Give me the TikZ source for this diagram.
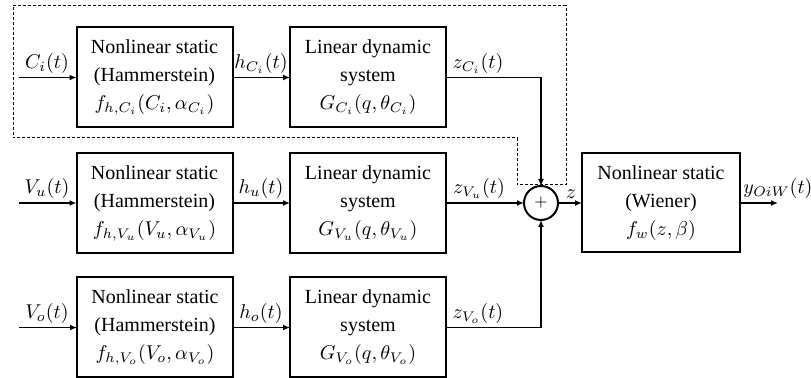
\documentclass[tikz,border=0pt]{standalone}
\usepackage{fontspec}
\setmainfont{Liberation Serif}
\usetikzlibrary{arrows.meta}

\begin{document}
\begin{tikzpicture}[y=0.50pt,x=0.50pt,yscale=-1, inner sep=0pt, outer sep=0pt,
  blockbox/.style={draw=black,line width=1.0pt,minimum width=78pt,minimum height=50pt,
    align=center,font=\fontsize{10}{14}\selectfont},
  wire/.style={draw=black,line join=miter,line cap=butt,line width=0.700pt,
    -{Latex[length=3.5pt,width=3pt]}},
  sumnode/.style={draw=black,circle,line width=1.0pt,minimum size=17pt}]
\useasboundingbox (0,0) rectangle (811,378);

% feedback frame (dotted)
\path[draw=black,line width=0.500pt,dash pattern=on 1.5pt off 1pt] (13,6) -- (566,6) --
  (566,185) -- (517,185) -- (517,138) -- (13,138) -- cycle;

\node[blockbox] (rect4101) at (154.5,77.5) {Nonlinear static\\(Hammerstein)\\$f_{h,C_i}(C_i,\alpha_{C_i})$};
\node[blockbox] (rect4102) at (368,77.5) {Linear dynamic\\system\\$G_{C_i}(q,\theta_{C_i})$};
\node[blockbox] (rect4103) at (154.5,203) {Nonlinear static\\(Hammerstein)\\$f_{h,V_u}(V_u,\alpha_{V_u})$};
\node[blockbox] (rect4104) at (368,203) {Linear dynamic\\system\\$G_{V_u}(q,\theta_{V_u})$};
\node[blockbox] (rect4105) at (155,327.5) {Nonlinear static\\(Hammerstein)\\$f_{h,V_o}(V_o,\alpha_{V_o})$};
\node[blockbox] (rect4106) at (368,327.5) {Linear dynamic\\system\\$G_{V_o}(q,\theta_{V_o})$};
\node[sumnode] (circle4108) at (541,203) {\footnotesize $+$};
\node[blockbox,minimum width=79pt,minimum height=49.5pt] (rect4107) at (661,203)
  {Nonlinear static\\(Wiener)\\$f_w(z,\beta)$};

\coordinate (path4201) at (19,77.5);
\coordinate (path4202) at (19,203);
\coordinate (path4203) at (19,327.5);
\coordinate (path4204) at (778,203);

\path[wire] (path4201) -- (rect4101.west);
\path[wire] (path4202) -- (rect4103.west);
\path[wire] (path4203) -- (rect4105.west);
\path[wire] (rect4101.east) -- (rect4102.west);
\path[wire] (rect4103.east) -- (rect4104.west);
\path[wire] (rect4105.east) -- (rect4106.west);
\path[wire] (rect4102.east) -| (circle4108.north);
\path[wire] (rect4104.east) -- (circle4108.west);
\path[wire] (rect4106.east) -| (circle4108.south);
\path[wire] (circle4108.east) -- (rect4107.west);
\path[wire] (rect4107.east) -- (path4204);

\path (47,74) node[above] (text4301) {$C_i(t)$};
\path (47,199) node[above] (text4302) {$V_u(t)$};
\path (47,324) node[above] (text4303) {$V_o(t)$};
\path (261,74) node[above] (text4304) {$h_{C_i}(t)$};
\path (261,199) node[above] (text4305) {$h_u(t)$};
\path (261,324) node[above] (text4306) {$h_o(t)$};
\path (478,74) node[above] (text4307) {$z_{C_i}(t)$};
\path (479,199) node[above] (text4308) {$z_{V_u}(t)$};
\path (478,324) node[above] (text4309) {$z_{V_o}(t)$};
\path (571,199) node[above] (text4310) {$z$};
\path (778,199) node[above] (text4311) {$y_{OiW}(t)$};
\end{tikzpicture}
\end{document}
